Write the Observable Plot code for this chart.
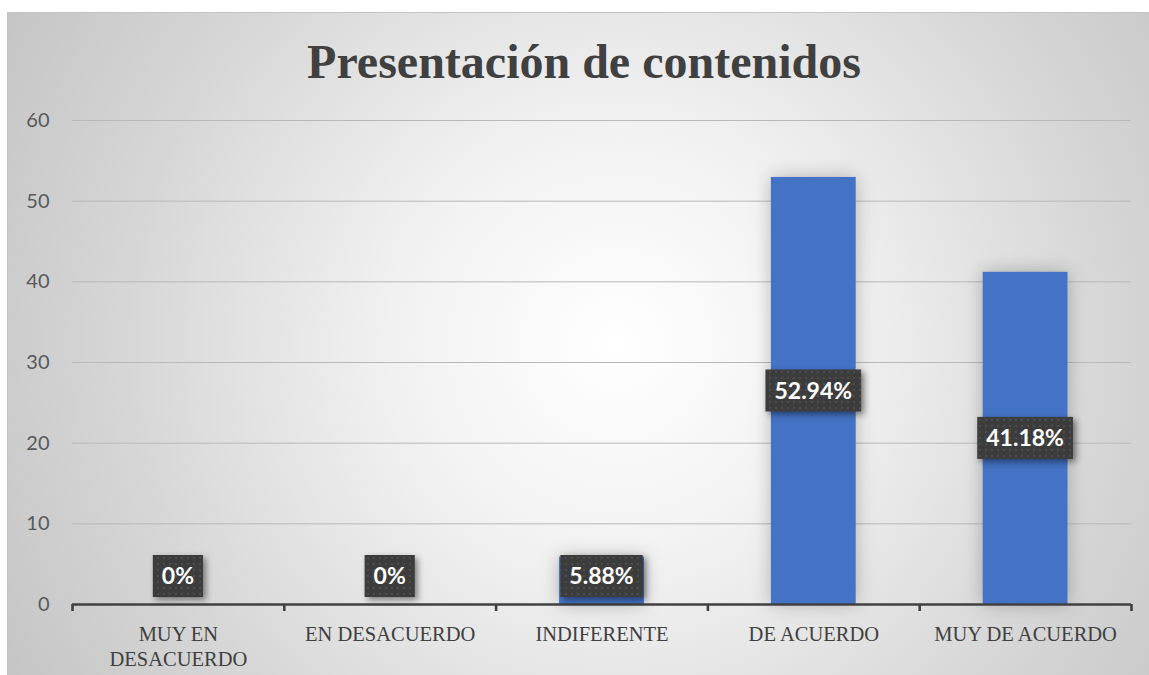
<!DOCTYPE html>
<html>
<head>
<meta charset="utf-8">
<script src="https://cdn.jsdelivr.net/npm/d3@7"></script>
<script src="https://cdn.jsdelivr.net/npm/@observablehq/plot@0.6"></script>
<style>
  html, body { margin: 0; padding: 0; background: #ffffff; }
  #wrap { position: relative; width: 1149px; height: 675px; overflow: hidden; background: #fff; }
  #frame { position: absolute; left: 7px; top: 12px; width: 1170px; height: 690px;
    border: 1px solid #c4c4c4;
    background: radial-gradient(circle at 52% 48%, #ffffff 0%, #f1f1f1 32%, #d6d6d6 70%, #c4c4c4 100%); }
  #title { position: absolute; left: 0; top: 0; width: 1168px; text-align: center;
    font-family: "Liberation Serif", "Times New Roman", serif; font-weight: bold; font-size: 48px;
    line-height: 48px; color: #404040; padding-top: 38px; margin: 0; }
  #chart { position: absolute; left: 0; top: 100px; }
  #chart svg { background: transparent; overflow: visible; }
  #chart g[aria-label="rect"] { filter: drop-shadow(0 0 9px rgba(0,0,0,0.25)); }
  #chart g.labels rect { filter: drop-shadow(3px 3px 3px rgba(0,0,0,0.45)); }
</style>
</head>
<body>
<div id="wrap">
  <div id="frame"></div>
  <div id="title">Presentación de contenidos</div>
  <div id="chart"></div>
</div>
<script>
// Data
const categories = ["MUY EN DESACUERDO", "EN DESACUERDO", "INDIFERENTE", "DE ACUERDO", "MUY DE ACUERDO"];
const axisLabels = ["MUY EN\nDESACUERDO", "EN DESACUERDO", "INDIFERENTE", "DE ACUERDO", "MUY DE ACUERDO"];
const values = [0, 0, 5.88, 52.94, 41.18];
const valueLabels = ["0%", "0%", "5.88%", "52.94%", "41.18%"];
const yTicks = [0, 10, 20, 30, 40, 50, 60];

const rows = categories.map((c, i) => ({i, category: c, value: values[i], label: valueLabels[i]}));
const bounds = d3.range(categories.length + 1);
const centers = categories.map((c, i) => i + 0.5);

// Custom label boxes drawn through Plot's scales
function labelBoxes(index, scales, channels, dimensions) {
  const ctx = document.createElement("canvas").getContext("2d");
  const font = "bold 23px Lato";
  ctx.font = font;
  const boxH = 42, padX = 9;
  const y0 = scales.y(0);
  const g = d3.create("svg:g").attr("class", "labels");
  const defs = g.append("defs");
  const pat = defs.append("pattern").attr("id", "dots").attr("width", 6).attr("height", 6)
    .attr("patternUnits", "userSpaceOnUse");
  pat.append("rect").attr("width", 6).attr("height", 6).attr("fill", "#3d3d3d");
  pat.append("rect").attr("x", 1).attr("y", 1).attr("width", 2).attr("height", 2).attr("fill", "#4d4d4d");
  for (const r of rows) {
    const cx = scales.x(r.i + 0.5);
    const cy = Math.min(scales.y(r.value / 2), y0 - 7 - boxH / 2);
    const w = ctx.measureText(r.label).width + 2 * padX;
    g.append("rect").attr("x", cx - w / 2).attr("y", cy - boxH / 2).attr("width", w).attr("height", boxH)
      .attr("fill", "url(#dots)");
    g.append("text").attr("x", cx).attr("y", cy).attr("dy", "0.36em").attr("text-anchor", "middle")
      .attr("fill", "#ffffff").style("font", font).text(r.label);
  }
  return g.node();
}

const chart = Plot.plot({
  width: 1149,
  height: 575,
  marginLeft: 72,
  marginRight: 18,
  marginTop: 20,
  marginBottom: 71,
  style: {background: "transparent", fontFamily: "Lato"},
  x: {domain: [0, categories.length], axis: null, label: null},
  y: {domain: [0, 60], axis: null, label: null},
  marks: [
    Plot.gridY(yTicks.filter(d => d > 0), {stroke: "#b8b8b8", strokeOpacity: 1, strokeWidth: 1}),
    Plot.axisY(yTicks, {tickSize: 0, tickPadding: 23, fontSize: 20, fill: "#595959", fontFamily: "Lato", label: null}),
    Plot.rectY(rows, {x1: "i", x2: d => d.i + 1, y: "value", fill: "#4472C4", insetLeft: 63.5, insetRight: 63.5}),
    Plot.ruleY([0], {stroke: "#404040", strokeWidth: 2.6}),
    Plot.axisX(bounds, {tickSize: 7, tickFormat: () => "", stroke: "#404040", strokeWidth: 2.6, label: null}),
    Plot.axisX(centers, {tickSize: 0, tickPadding: 19, tickFormat: (d) => axisLabels[Math.floor(d)],
      fontSize: 20.5, fill: "#404040", fontFamily: "Liberation Serif", lineHeight: 1.22, label: null}),
    labelBoxes
  ]
});
document.getElementById("chart").appendChild(chart);
</script>
</body>
</html>
